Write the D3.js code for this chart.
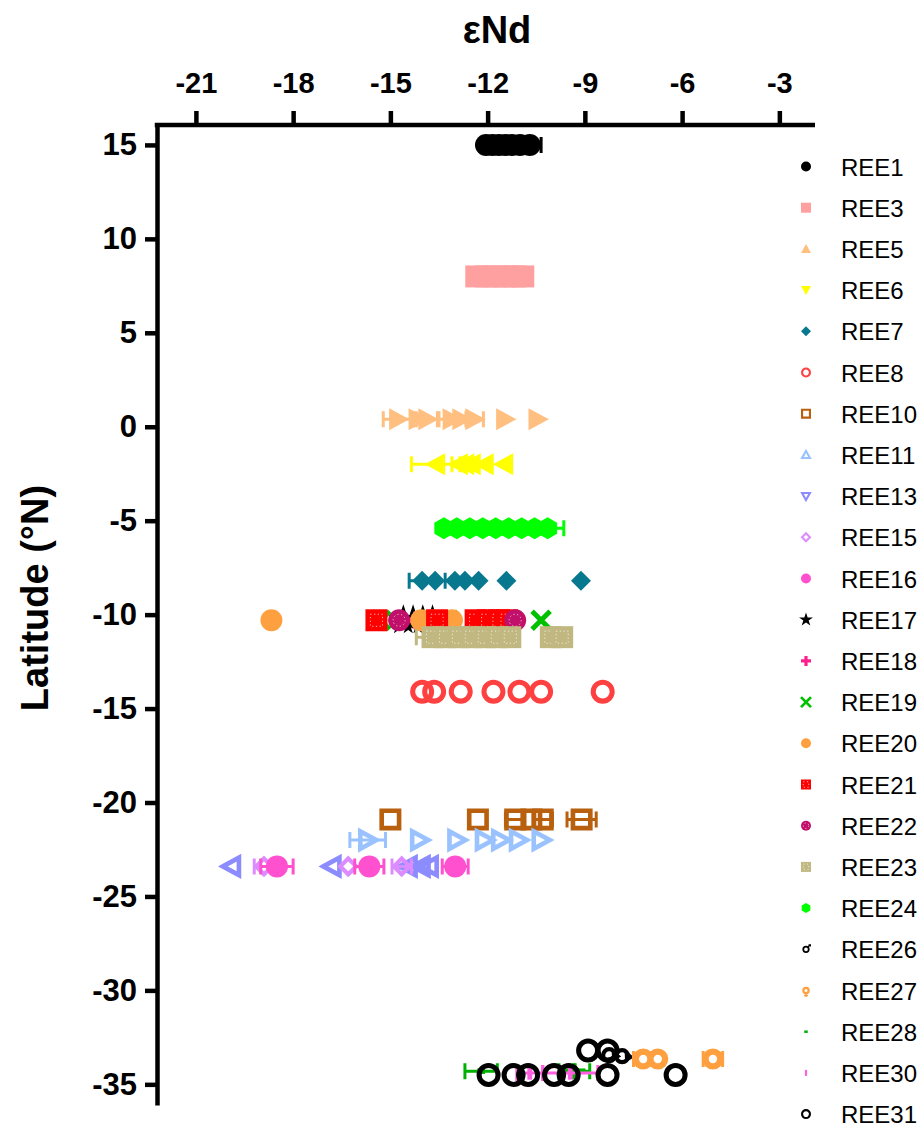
<!DOCTYPE html>
<html>
<head>
<meta charset="utf-8">
<script src="https://cdn.jsdelivr.net/npm/d3@7"></script>
<style>
  body { margin: 0; background: #fff; }
  svg { display: block; font-family: "Liberation Sans", Arial, sans-serif; }
</style>
</head>
<body>
<div id="chart"></div>
<script>
// points are [εNd, latitude, error]
const ree1 = [[-12.05, 15, 0], [-11.85, 15, 0], [-11.65, 15, 0], [-11.45, 15, 0], [-11.25, 15, 0], [-11.0, 15, 0], [-10.7, 15, 0.35]];
const ree3 = [[-12.35, 8, 0], [-12.05, 8, 0], [-11.75, 8, 0], [-11.45, 8, 0], [-11.15, 8, 0], [-10.9, 8, 0]];
const ree5 = [[-14.75, 0.4, 0.47], [-14.15, 0.4, 0], [-13.85, 0.4, 0.35], [-13.1, 0.4, 0.45], [-12.8, 0.4, 0], [-12.4, 0.4, 0.27], [-11.45, 0.4, 0], [-10.45, 0.4, 0]];
const ree6 = [[-13.6, -2, 0.75], [-12.9, -2, 0.2], [-12.7, -2, 0], [-12.5, -2, 0], [-12.1, -2, 0], [-11.5, -2, 0]];
const ree7 = [[-14.02, -8.2, 0.4], [-13.62, -8.2, 0], [-13.01, -8.2, 0.3], [-12.7, -8.2, 0], [-12.28, -8.2, 0], [-11.42, -8.2, 0], [-9.12, -8.2, 0]];
const ree8 = [[-14.02, -14.1, 0], [-13.65, -14.1, 0], [-12.83, -14.1, 0], [-11.82, -14.1, 0], [-11.02, -14.1, 0], [-10.35, -14.1, 0], [-8.45, -14.1, 0]];
const ree10 = [[-15.0, -20.9, 0], [-12.3, -20.9, 0], [-11.15, -20.9, 0.3], [-10.65, -20.9, 0], [-10.3, -20.9, 0.3], [-9.1, -20.9, 0.45]];
const ree11 = [[-15.7, -22.0, 0.55], [-14.1, -22.0, 0], [-12.95, -22.0, 0], [-12.1, -22.0, 0], [-11.6, -22.0, 0], [-11.05, -22.0, 0], [-10.35, -22.0, 0]];
const ree13 = [[-19.9, -23.4, 0], [-16.8, -23.4, 0], [-14.45, -23.4, 0], [-14.05, -23.4, 0], [-13.8, -23.4, 0]];
const ree15 = [[-18.9, -23.4, 0.3], [-16.3, -23.4, 0], [-14.65, -23.4, 0.3]];
const ree16 = [[-18.5, -23.4, 0.5], [-15.65, -23.4, 0.45], [-13.0, -23.4, 0.4]];
const ree17 = [[-14.6, -10.3, 0.3], [-14.3, -10.3, 0.3], [-14.0, -10.3, 0], [-13.7, -10.3, 0.3]];
const ree18 = [[-14.2, -10.3, 0.5], [-13.6, -10.3, 0.4]];
const ree19 = [[-15.3, -10.3, 0], [-13.2, -10.3, 0], [-10.35, -10.3, 0]];
const ree20 = [[-18.67, -10.3, 0], [-14.05, -10.3, 0], [-13.7, -10.3, 0], [-13.1, -10.3, 0]];
const ree21 = [[-15.43, -10.3, 0], [-13.56, -10.3, 0], [-12.37, -10.3, 0], [-12.0, -10.3, 0], [-11.65, -10.3, 0], [-11.4, -10.3, 0]];
const ree22 = [[-14.73, -10.3, 0], [-11.15, -10.3, 0]];
const ree23 = [[-13.7, -11.2, 0.5], [-13.3, -11.2, 0], [-12.9, -11.2, 0], [-12.5, -11.2, 0], [-12.1, -11.2, 0], [-11.7, -11.2, 0], [-11.3, -11.2, 0], [-10.05, -11.2, 0], [-9.7, -11.2, 0]];
const ree24 = [[-13.35, -5.4, 0], [-12.95, -5.4, 0], [-12.55, -5.4, 0], [-12.15, -5.4, 0], [-11.75, -5.4, 0], [-11.35, -5.4, 0], [-10.95, -5.4, 0], [-10.55, -5.4, 0], [-10.15, -5.4, 0.5]];
const ree26 = [[-8.25, -33.45, 0], [-7.85, -33.5, 0]];
const ree27 = [[-7.2, -33.65, 0.3], [-6.75, -33.65, 0], [-5.05, -33.65, 0.3]];
const ree28 = [[-12.2, -34.3, 0.5], [-9.55, -34.3, 0.25], [-9.1, -34.3, 0.25]];
const ree30 = [[-10.7, -34.4, 0.4], [-9.45, -34.4, 0.85]];
const ree31 = [[-11.97, -34.5, 0], [-11.2, -34.5, 0], [-10.75, -34.5, 0], [-9.95, -34.5, 0], [-9.5, -34.5, 0], [-8.3, -34.5, 0], [-6.2, -34.5, 0], [-8.9, -33.2, 0], [-8.3, -33.2, 0]];

const seriesNames = ["REE1", "REE3", "REE5", "REE6", "REE7", "REE8", "REE10", "REE11", "REE13", "REE15", "REE16", "REE17",
  "REE18", "REE19", "REE20", "REE21", "REE22", "REE23", "REE24", "REE26", "REE27", "REE28", "REE30", "REE31"];
const seriesData = [ree1, ree3, ree5, ree6, ree7, ree8, ree10, ree11, ree13, ree15, ree16, ree17,
  ree18, ree19, ree20, ree21, ree22, ree23, ree24, ree26, ree27, ree28, ree30, ree31];
const xTicks = [-21, -18, -15, -12, -9, -6, -3];
const yTicks = [15, 10, 5, 0, -5, -10, -15, -20, -25, -30, -35];

// marker style per series: shape, colour, hollow
const styles = [
  {s: "circle", c: "#000000"}, {s: "square", c: "#ffa0a0"}, {s: "triR", c: "#ffbf80", leg: "triU"},
  {s: "triL", c: "#ffff00", leg: "triD"}, {s: "diamond", c: "#08788f"}, {s: "circle", c: "#ff4040", hollow: true},
  {s: "square", c: "#b8600e", hollow: true}, {s: "triR", c: "#99c2ff", hollow: true, leg: "triU"},
  {s: "triL", c: "#8c8cff", hollow: true, leg: "triD"}, {s: "diamond", c: "#dd8cff", hollow: true},
  {s: "circle", c: "#ff50d0"}, {s: "star", c: "#000000"}, {s: "plus", c: "#ff2090"}, {s: "cross", c: "#00c000"},
  {s: "circle", c: "#ffa040"}, {s: "square", c: "#ff0000", dots: true}, {s: "circle", c: "#c0106a", dots: true},
  {s: "square", c: "#c0b880", dots: true}, {s: "hex", c: "#00ff00"}, {s: "male", c: "#000000"},
  {s: "ring", c: "#ffa040"}, {s: "dash", c: "#00b000"}, {s: "vbar", c: "#ff60e0"}, {s: "circle", c: "#000000", hollow: true}
];

const W = 922, H = 1133;
const margin = {left: 157, top: 125, right: 107, bottom: 28};

const svg = d3.select("#chart").append("svg").attr("width", W).attr("height", H);

const x = d3.scaleLinear().domain([-22.2, -1.9]).range([margin.left, W - margin.right]);
const y = d3.scaleLinear().domain([16.06, -36.1]).range([margin.top, H - margin.bottom]);

function shapePath(kind, r) {
  const p = d3.path();
  switch (kind) {
    case "circle": case "ring": return d3.symbol(d3.symbolCircle, Math.PI * r * r)();
    case "square": p.rect(-r, -r, 2 * r, 2 * r); return p.toString();
    case "triR": return `M${r},0L${-r * 0.85},${-r}L${-r * 0.85},${r}Z`;
    case "triL": return `M${-r},0L${r * 0.85},${-r}L${r * 0.85},${r}Z`;
    case "triU": return `M0,${-r}L${r},${r * 0.8}L${-r},${r * 0.8}Z`;
    case "triD": return `M0,${r}L${r},${-r * 0.8}L${-r},${-r * 0.8}Z`;
    case "diamond": return `M0,${-r}L${r},0L0,${r}L${-r},0Z`;
    case "hex": {
      const pts = d3.range(6).map(i => [r * Math.sin(i * Math.PI / 3), -r * Math.cos(i * Math.PI / 3)]);
      return "M" + pts.map(q => q.join(",")).join("L") + "Z";
    }
    case "star": return d3.symbol(d3.symbolStar, r * r * 2.4)();
    case "plus": { const t = r * 0.32; return `M${-t},${-r}H${t}V${-t}H${r}V${t}H${t}V${r}H${-t}V${t}H${-r}V${-t}H${-t}Z`; }
    case "dash": return `M${-r * 0.35},${-r * 0.25}H${r * 0.35}V${r * 0.25}H${-r * 0.35}Z`;
    case "vbar": return `M${-r * 0.22},${-r * 0.6}H${r * 0.22}V${r * 0.6}H${-r * 0.22}Z`;
    default: return d3.symbol(d3.symbolCircle, Math.PI * r * r)();
  }
}

function drawMarker(g, st, r, legend) {
  const kind = legend && st.leg ? st.leg : st.s;
  const sw = Math.max(1.6, r * 0.42);
  if (kind === "cross") {
    g.append("path").attr("d", `M${-r},${-r}L${r},${r}M${-r},${r}L${r},${-r}`)
      .attr("stroke", st.c).attr("stroke-width", r * 0.55).attr("fill", "none");
    return;
  }
  if (kind === "male") {
    if (legend) {
      g.append("circle").attr("r", r * 0.55).attr("fill", "none").attr("stroke", st.c).attr("stroke-width", r * 0.35);
      g.append("path").attr("d", `M${r * 0.3},${-r * 0.3}L${r * 0.75},${-r * 0.85}`)
        .attr("stroke", st.c).attr("stroke-width", r * 0.3);
      g.append("path").attr("d", `M${r * 0.45},${-r}L${r},${-r}L${r},${-r * 0.45}Z`).attr("fill", st.c);
    } else {
      // in the plot the glyph reads as a ring with a wedge pointing right
      g.append("circle").attr("r", r * 0.5).attr("fill", "none").attr("stroke", st.c).attr("stroke-width", r * 0.35);
      g.append("path").attr("d", `M${r * 0.2},${-r * 0.55}L${r},${r * 0.1}L${r * 0.25},${r * 0.55}Z`).attr("fill", st.c);
    }
    return;
  }
  if (kind === "ring") {
    g.append("circle").attr("r", r * 0.75).attr("fill", st.c);
    g.append("circle").attr("r", r * 0.3).attr("fill", "#fff");
    if (legend) g.append("path").attr("d", `M0,${r * 0.6}V${r * 1.3}M${-r * 0.4},${r * 1.0}H${r * 0.4}`)
      .attr("stroke", st.c).attr("stroke-width", r * 0.3);
    return;
  }
  const ir = st.hollow ? r - sw / 2 : r;
  g.append("path").attr("d", shapePath(kind, ir))
    .attr("fill", st.hollow ? "none" : st.c)
    .attr("stroke", st.hollow ? st.c : "none")
    .attr("stroke-width", st.hollow ? sw : 0);
  if (st.dots) {
    g.append("path").attr("d", kind === "circle" ? d3.symbol(d3.symbolCircle, Math.PI * r * r * 0.3)() : shapePath("square", r * 0.55))
      .attr("fill", "none").attr("stroke", "#fff").attr("stroke-opacity", 0.7)
      .attr("stroke-width", 1).attr("stroke-dasharray", "1.2,2.5");
  }
}

// plot markers
const plotR = {circle: 11, square: 11, triR: 11, triL: 11, diamond: 10, hex: 11, star: 11, plus: 9, cross: 9,
  male: 12, ring: 14, dash: 11, vbar: 11};
const errColor = i => styles[i].c;

seriesData.forEach((pts, i) => {
  const st = styles[i];
  const g = svg.append("g");
  const r = (plotR[st.s] || 10) + (st.hollow && st.s === "circle" ? 1 : 0);
  // error bars
  pts.filter(d => d[2] > 0).forEach(d => {
    const cy = y(d[1]), x0 = x(d[0] - d[2]), x1 = x(d[0] + d[2]);
    g.append("path")
      .attr("d", `M${x0},${cy}H${x1}M${x0},${cy - 8}V${cy + 8}M${x1},${cy - 8}V${cy + 8}`)
      .attr("stroke", errColor(i)).attr("stroke-width", 3).attr("fill", "none");
  });
  pts.forEach(d => {
    const m = g.append("g").attr("transform", `translate(${x(d[0])},${y(d[1])})`);
    drawMarker(m, st, r, false);
  });
});

// axes
const axisW = 4.5;
const xAxis = svg.append("g").attr("transform", `translate(0,${margin.top})`)
  .call(d3.axisTop(x).tickValues(xTicks).tickFormat(d => String(d)).tickSize(14).tickPadding(18).tickSizeOuter(0));
const yAxis = svg.append("g").attr("transform", `translate(${margin.left},0)`)
  .call(d3.axisLeft(y).tickValues(yTicks).tickFormat(d => String(d)).tickSize(12).tickPadding(8).tickSizeOuter(0));
[xAxis, yAxis].forEach(a => {
  a.select(".domain").attr("stroke", "#000").attr("stroke-width", axisW);
  a.selectAll(".tick line").attr("stroke", "#000").attr("stroke-width", axisW);
  a.selectAll(".tick text").attr("fill", "#000").attr("font-weight", "bold")
    .attr("font-family", "Liberation Sans, Arial, sans-serif");
});
xAxis.selectAll(".tick text").attr("font-size", 29);
yAxis.selectAll(".tick text").attr("font-size", 31);
xAxis.select(".domain").attr("d", `M${margin.left - axisW / 2},0H${W - margin.right}`);

svg.append("text").attr("x", 497).attr("y", 43).attr("text-anchor", "middle")
  .attr("font-size", 38).attr("font-weight", "bold").text("εNd");
svg.append("text").attr("transform", `translate(48,598) rotate(-90)`).attr("text-anchor", "middle")
  .attr("font-size", 38).attr("font-weight", "bold").text("Latitude (°N)");

// legend
const leg = svg.append("g");
seriesNames.forEach((name, i) => {
  const ly = 166.5 + i * 41.2;
  const m = leg.append("g").attr("transform", `translate(806,${ly})`);
  drawMarker(m, styles[i], 5, true);
  leg.append("text").attr("x", 841).attr("y", ly + 9).attr("font-size", 24).attr("fill", "#000").text(name);
});
</script>
</body>
</html>
